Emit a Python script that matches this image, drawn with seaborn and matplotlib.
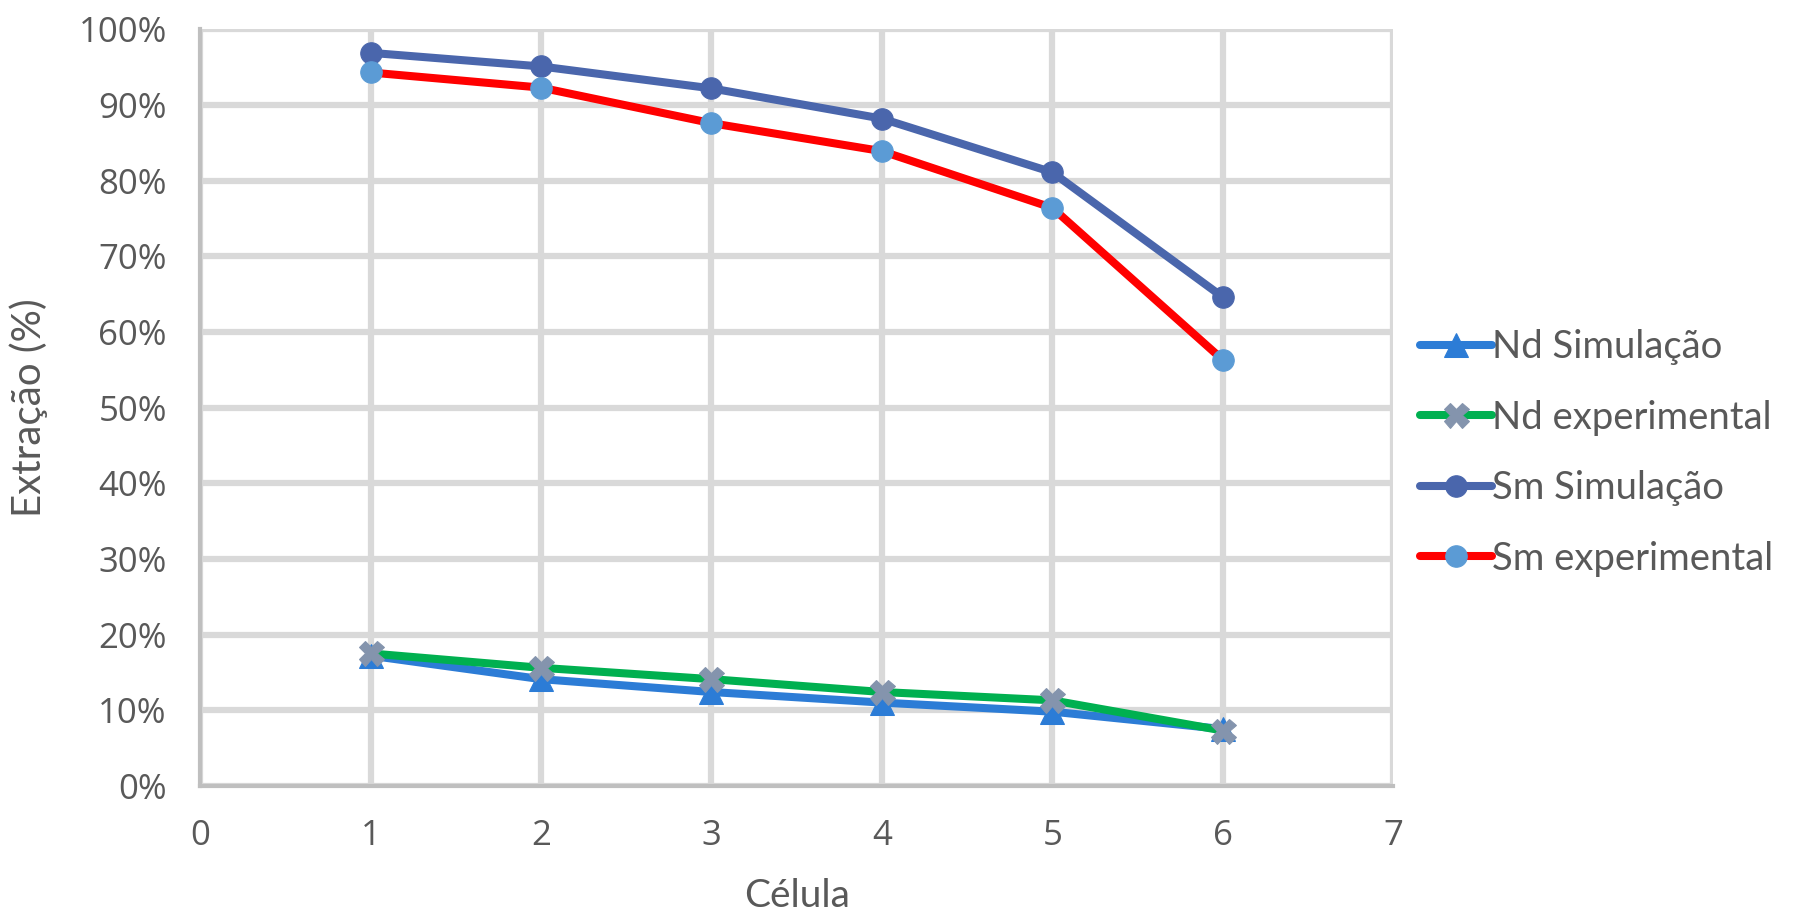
import matplotlib
matplotlib.use("Agg")
import matplotlib.pyplot as plt
import seaborn as sns
import pandas as pd
from matplotlib.ticker import FuncFormatter, MultipleLocator

celula = [1, 2, 3, 4, 5, 6]
nd_sim = [17.2, 14.1, 12.4, 11.0, 9.8, 7.5]
nd_exp = [17.5, 15.6, 14.1, 12.4, 11.3, 7.3]
sm_sim = [96.9, 95.1, 92.2, 88.2, 81.1, 64.6]
sm_exp = [94.3, 92.3, 87.6, 83.9, 76.4, 56.3]
series_names = ["Nd Simulação", "Nd experimental", "Sm Simulação", "Sm experimental"]

sns.set_theme(style="white")
plt.rcParams['font.family'] = ['Lato', 'DejaVu Sans']

fig = plt.figure(figsize=(18.19, 9.18), dpi=100)
ax = fig.add_axes([0.110, 0.144, 0.656, 0.824])

grid_c = "#D9D9D9"
ax.set_xlim(0, 7)
ax.set_ylim(0, 100)
ax.xaxis.set_major_locator(MultipleLocator(1))
ax.yaxis.set_major_locator(MultipleLocator(10))
ax.grid(True, color=grid_c, linewidth=4.5, zorder=0)
ax.set_axisbelow(True)

styles = [
    (nd_sim, dict(color="#2C7CD6", marker="^", markersize=17, markerfacecolor="#2C7CD6", markeredgecolor="#2C7CD6")),
    (nd_exp, dict(color="#00B050", marker="X", markersize=18, markerfacecolor="#8494AD", markeredgecolor="#8494AD")),
    (sm_sim, dict(color="#4A66AC", marker="o", markersize=15.5, markerfacecolor="#4A66AC", markeredgecolor="#4A66AC")),
    (sm_exp, dict(color="#FF0000", marker="o", markersize=15.5, markerfacecolor="#5B9BD5", markeredgecolor="#5B9BD5")),
]
for name, (vals, st) in zip(series_names, styles):
    df = pd.DataFrame({"Célula": celula, "v": vals})
    sns.lineplot(data=df, x="Célula", y="v", ax=ax, label=name, linewidth=5.8, zorder=3, **st)

for s in ["top", "right"]:
    ax.spines[s].set_visible(False)
for s in ["left", "bottom"]:
    ax.spines[s].set_color("#BFBFBF")
    ax.spines[s].set_linewidth(3)

ax.yaxis.set_major_formatter(FuncFormatter(lambda v, p: f"{int(round(v))}%"))
ax.tick_params(axis="both", length=0, labelsize=25, labelcolor="#595959",
               labelfontfamily="Open Sans")
ax.tick_params(axis="y", pad=24)
ax.tick_params(axis="x", pad=24)

ax.set_xlabel("Célula", fontsize=28, color="#595959", labelpad=18)
ax.set_ylabel("Extração (%)", fontsize=29, color="#595959", labelpad=22)

leg = ax.legend(loc="center left", bbox_to_anchor=(1.022, 0.44), frameon=False,
                fontsize=27.5, labelcolor="#595959", handlelength=1.9, handletextpad=0.0,
                labelspacing=0.9, borderaxespad=0, borderpad=0)

fig.savefig("out.png", dpi=100)
